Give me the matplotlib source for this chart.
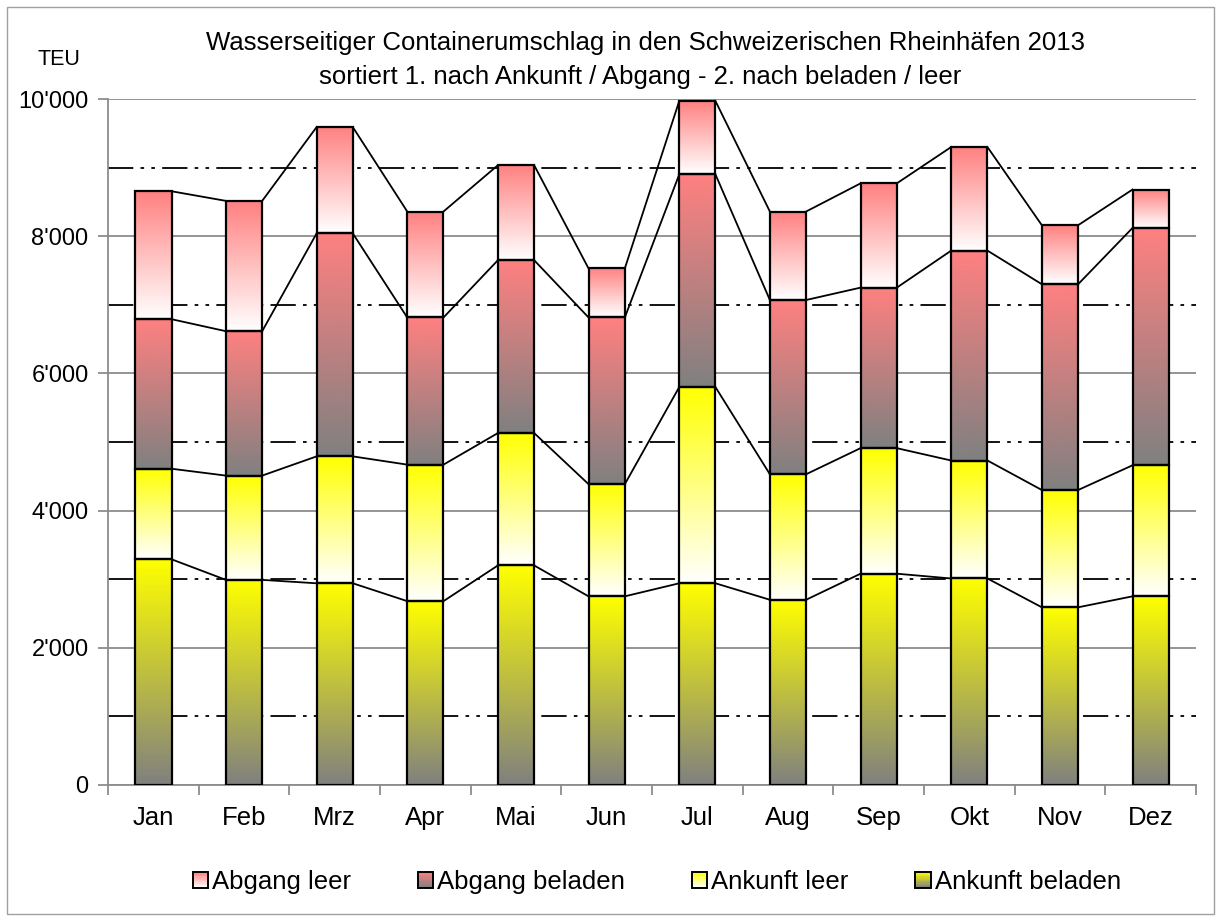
import numpy as np
import matplotlib.pyplot as plt
from matplotlib import font_manager
from matplotlib.colors import LinearSegmentedColormap
from matplotlib.patches import Rectangle
from matplotlib.legend_handler import HandlerBase
from matplotlib.ticker import MultipleLocator, FuncFormatter

plt.rcParams['font.family'] = ['Liberation Sans', 'DejaVu Sans']

# Data (TEU per month)
months = ['Jan', 'Feb', 'Mrz', 'Apr', 'Mai', 'Jun', 'Jul', 'Aug', 'Sep', 'Okt', 'Nov', 'Dez']
ankunft_beladen = [3290, 2990, 2940, 2680, 3200, 2750, 2940, 2700, 3080, 3010, 2590, 2750]
ankunft_leer = [1320, 1520, 1850, 1990, 1930, 1635, 2860, 1830, 1830, 1720, 1710, 1910]
abgang_beladen = [2180, 2105, 3250, 2145, 2520, 2430, 3100, 2540, 2340, 3060, 3000, 3460]
abgang_leer = [1865, 1900, 1550, 1545, 1385, 715, 1070, 1290, 1520, 1510, 860, 560]

series = [
    ('Ankunft beladen', ankunft_beladen, '#ffff00', '#808080'),
    ('Ankunft leer', ankunft_leer, '#ffff00', '#ffffff'),
    ('Abgang beladen', abgang_beladen, '#ff8080', '#808080'),
    ('Abgang leer', abgang_leer, '#ff8080', '#ffffff'),
]

# title uses a narrow face if there is one
installed = {f.name for f in font_manager.fontManager.ttflist}
if 'Liberation Sans Narrow' in installed:
    title_font, title_size = 'Liberation Sans Narrow', 21.5
else:
    title_font, title_size = 'Liberation Sans', 18.5

fig = plt.figure(figsize=(12.21, 9.21), dpi=100)
ax = fig.add_axes([0.0885, 0.1477, 0.891, 0.7448])

x = np.arange(len(months))
width = 0.4
bottom = np.zeros(len(months))
grad = np.linspace(0, 1, 256).reshape(-1, 1)
tops = []
cmaps = {}

for name, vals, c_top, c_bot in series:
    cmap = LinearSegmentedColormap.from_list(name, [c_bot, c_top])
    cmaps[name] = cmap
    bars = ax.bar(x, vals, width, bottom=bottom, facecolor='none',
                  edgecolor='black', linewidth=1.6, zorder=4)
    for p in bars.patches:
        x0, y0 = p.get_x(), p.get_y()
        ax.imshow(grad, extent=[x0, x0 + p.get_width(), y0, y0 + p.get_height()],
                  cmap=cmap, aspect='auto', origin='lower', zorder=3,
                  interpolation='bilinear')
    bottom = bottom + np.array(vals)
    tops.append(bottom.copy())

# series lines between bars
for top in tops:
    for i in range(len(months) - 1):
        ax.plot([x[i] + width / 2, x[i + 1] - width / 2], [top[i], top[i + 1]],
                color='black', linewidth=1.3, zorder=2)

ax.set_xlim(-0.5, len(months) - 0.5)
ax.set_ylim(0, 10000)

ax.yaxis.set_major_locator(MultipleLocator(2000))
ax.yaxis.set_minor_locator(MultipleLocator(1000))
ax.yaxis.set_major_formatter(FuncFormatter(lambda v, p: f'{v:,.0f}'.replace(',', "'")))
ax.grid(which='major', axis='y', color='#8c8c8c', linewidth=1.3, zorder=0)
ax.grid(which='minor', axis='y', color='black', linewidth=1.3,
        linestyle=(0, (14, 4, 2, 4, 2, 4)), zorder=0)
ax.set_axisbelow(True)

ax.set_xticks(x)
ax.set_xticklabels(months)
ax.set_xticks(np.arange(-0.5, len(months)), minor=True)
ax.tick_params(axis='x', which='major', length=0, pad=15, labelsize=18.5)
ax.tick_params(axis='x', which='minor', length=7, color='#8c8c8c', width=1.3)
ax.tick_params(axis='y', which='major', length=7, color='#8c8c8c', width=1.3, labelsize=17, pad=7)
ax.tick_params(axis='y', which='minor', length=0)

for s in ['top', 'right']:
    ax.spines[s].set_visible(False)
for s in ['left', 'bottom']:
    ax.spines[s].set_color('#8c8c8c')
    ax.spines[s].set_linewidth(1.3)

fig.text(0.529, 0.953, 'Wasserseitiger Containerumschlag in den Schweizerischen Rheinhäfen 2013',
         ha='center', va='center', fontsize=title_size, family=[title_font, 'DejaVu Sans'])
fig.text(0.524, 0.916, 'sortiert 1. nach Ankunft / Abgang - 2. nach beladen / leer',
         ha='center', va='center', fontsize=title_size, family=[title_font, 'DejaVu Sans'])
fig.text(0.048, 0.935, 'TEU', ha='center', va='center', fontsize=15.5)


class GradientHandler(HandlerBase):
    def __init__(self, cmap):
        super().__init__()
        self.cmap = cmap

    def create_artists(self, legend, orig_handle, xdescent, ydescent,
                       width, height, fontsize, trans):
        size = min(width, height * 0.85)
        x0 = -xdescent + (width - size) / 2
        y0 = -ydescent + (height - size) / 2
        n = 12
        arts = []
        for k in range(n):
            r = Rectangle((x0, y0 + size * k / n), size, size / n + 0.3,
                          facecolor=self.cmap((k + 0.5) / n), edgecolor='none',
                          transform=trans)
            arts.append(r)
        arts.append(Rectangle((x0, y0), size, size, facecolor='none',
                              edgecolor='black', linewidth=1.4, transform=trans))
        return arts


order = ['Abgang leer', 'Abgang beladen', 'Ankunft leer', 'Ankunft beladen']
handles = [Rectangle((0, 0), 1, 1) for _ in order]
hmap = {h: GradientHandler(cmaps[n]) for h, n in zip(handles, order)}
fig.legend(handles, order, handler_map=hmap, loc='center', ncol=4,
           bbox_to_anchor=(0.538, 0.0425), frameon=False, fontsize=18.5,
           handlelength=0.6, handletextpad=0.15, columnspacing=2.6)

fig.patches.append(Rectangle((0.006, 0.008), 0.988, 0.984, transform=fig.transFigure,
                             fill=False, edgecolor='#a0a0a0', linewidth=1))

fig.savefig('out.png', dpi=100)
